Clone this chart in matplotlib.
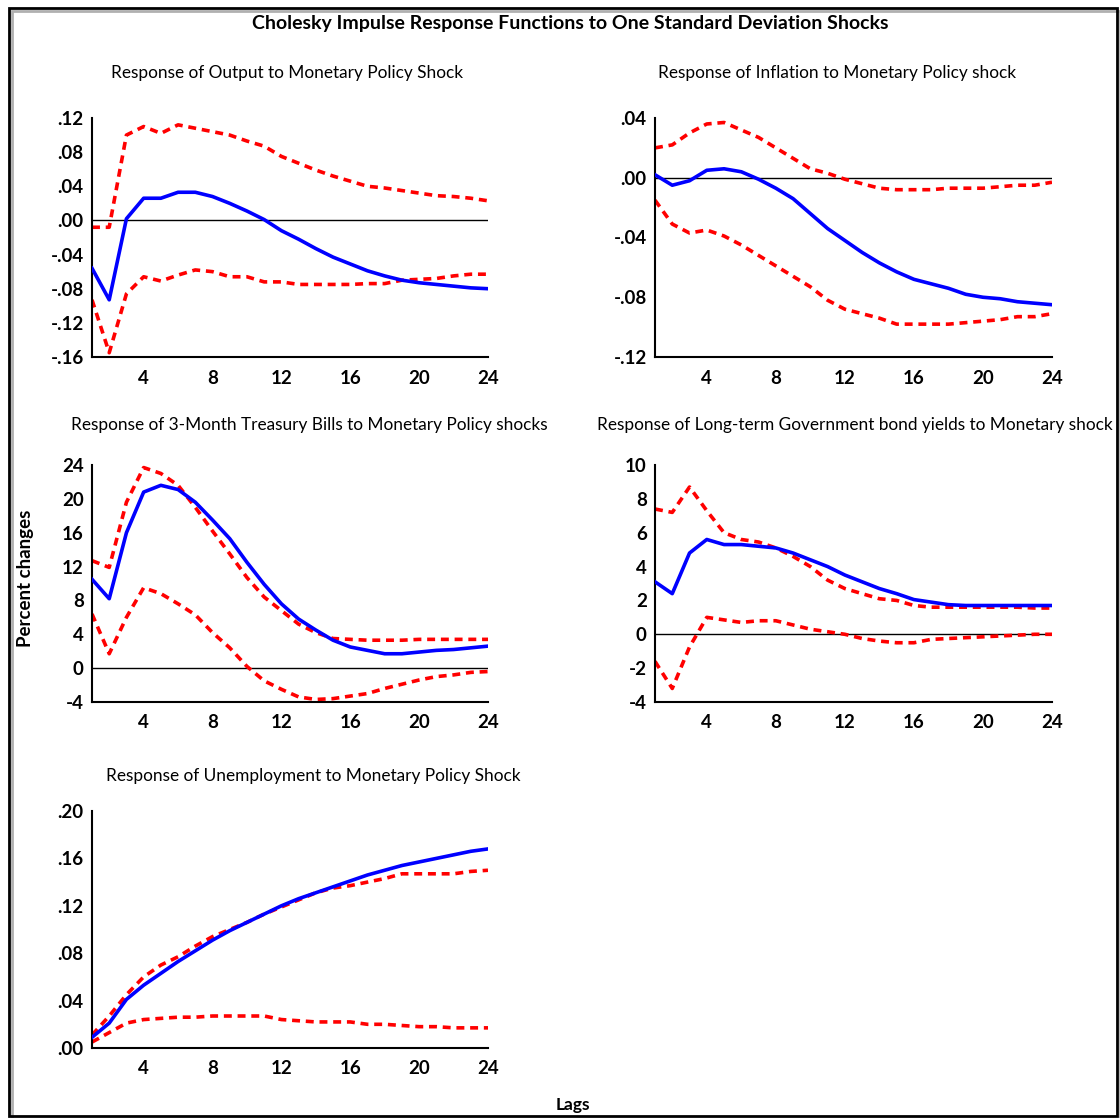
import matplotlib
matplotlib.use("Agg")
import matplotlib.pyplot as plt
from matplotlib.patches import Rectangle
import numpy as np

plt.rcParams["font.family"] = ["Lato", "DejaVu Sans"]

lags = np.arange(1, 25)

# Output
output_irf = [-0.056, -0.093, 0.002, 0.026, 0.026, 0.033, 0.033, 0.028, 0.020, 0.011, 0.001, -0.012,
              -0.022, -0.033, -0.043, -0.051, -0.059, -0.065, -0.070, -0.073, -0.075, -0.077, -0.079, -0.080]
output_up = [-0.008, -0.008, 0.100, 0.110, 0.102, 0.112, 0.108, 0.104, 0.100, 0.093, 0.087, 0.075,
             0.067, 0.059, 0.052, 0.046, 0.040, 0.038, 0.035, 0.032, 0.029, 0.028, 0.026, 0.023]
output_lo = [-0.093, -0.155, -0.086, -0.066, -0.071, -0.064, -0.058, -0.060, -0.066, -0.066, -0.072, -0.072,
             -0.075, -0.075, -0.075, -0.075, -0.074, -0.074, -0.070, -0.069, -0.068, -0.065, -0.063, -0.063]

# Inflation
infl_irf = [0.002, -0.005, -0.002, 0.005, 0.006, 0.004, -0.001, -0.007, -0.014, -0.024, -0.034, -0.042,
            -0.050, -0.057, -0.063, -0.068, -0.071, -0.074, -0.078, -0.080, -0.081, -0.083, -0.084, -0.085]
infl_up = [0.020, 0.022, 0.030, 0.036, 0.037, 0.032, 0.027, 0.020, 0.013, 0.006, 0.003, -0.001,
           -0.004, -0.007, -0.008, -0.008, -0.008, -0.007, -0.007, -0.007, -0.006, -0.005, -0.005, -0.003]
infl_lo = [-0.015, -0.031, -0.037, -0.035, -0.039, -0.045, -0.052, -0.059, -0.066, -0.073, -0.082, -0.088,
           -0.091, -0.094, -0.098, -0.098, -0.098, -0.098, -0.097, -0.096, -0.095, -0.093, -0.093, -0.091]

# 3-month treasury bills
tbill_irf = [10.5, 8.2, 16.0, 20.8, 21.6, 21.1, 19.6, 17.5, 15.3, 12.5, 9.9, 7.6,
             5.8, 4.5, 3.3, 2.5, 2.1, 1.7, 1.7, 1.9, 2.1, 2.2, 2.4, 2.6]
tbill_up = [12.7, 11.9, 19.6, 23.7, 23.0, 21.6, 19.0, 16.2, 13.5, 10.7, 8.4, 6.8,
            5.2, 4.2, 3.5, 3.4, 3.3, 3.3, 3.3, 3.4, 3.4, 3.4, 3.4, 3.4]
tbill_lo = [6.4, 1.7, 6.0, 9.5, 8.8, 7.6, 6.3, 4.2, 2.4, 0.2, -1.5, -2.5,
            -3.4, -3.7, -3.6, -3.3, -3.0, -2.4, -1.9, -1.4, -1.0, -0.8, -0.5, -0.4]

# Long-term government bond yields
bond_irf = [3.1, 2.4, 4.8, 5.6, 5.3, 5.3, 5.2, 5.1, 4.8, 4.4, 4.0, 3.5,
            3.1, 2.7, 2.4, 2.05, 1.9, 1.75, 1.7, 1.7, 1.7, 1.7, 1.7, 1.7]
bond_up = [7.4, 7.2, 8.7, 7.3, 6.0, 5.6, 5.45, 5.1, 4.6, 4.0, 3.2, 2.7,
           2.4, 2.1, 2.0, 1.7, 1.6, 1.6, 1.6, 1.6, 1.6, 1.6, 1.55, 1.55]
bond_lo = [-1.6, -3.2, -0.75, 1.0, 0.85, 0.7, 0.8, 0.8, 0.55, 0.3, 0.15, 0.0,
           -0.25, -0.4, -0.5, -0.5, -0.3, -0.25, -0.2, -0.15, -0.1, -0.05, 0.0, 0.0]

# Unemployment
unemp_irf = [0.009, 0.021, 0.041, 0.053, 0.063, 0.073, 0.082, 0.091, 0.099, 0.106, 0.113, 0.120,
             0.126, 0.131, 0.136, 0.141, 0.146, 0.150, 0.154, 0.157, 0.160, 0.163, 0.166, 0.168]
unemp_up = [0.011, 0.027, 0.045, 0.060, 0.070, 0.077, 0.086, 0.094, 0.100, 0.106, 0.113, 0.119,
            0.125, 0.131, 0.135, 0.137, 0.140, 0.143, 0.147, 0.147, 0.147, 0.147, 0.149, 0.150]
unemp_lo = [0.005, 0.013, 0.021, 0.024, 0.025, 0.026, 0.026, 0.027, 0.027, 0.027, 0.027, 0.024,
            0.023, 0.022, 0.022, 0.022, 0.020, 0.020, 0.019, 0.018, 0.018, 0.017, 0.017, 0.017]

titles = ["Response of Output to Monetary Policy Shock",
          "Response of Inflation to Monetary Policy shock",
          "Response of 3-Month Treasury Bills to Monetary Policy shocks",
          "Response of Long-term Government bond yields to Monetary shock",
          "Response of Unemployment to Monetary Policy Shock"]
yticks = [[0.12, 0.08, 0.04, 0.0, -0.04, -0.08, -0.12, -0.16],
          [0.04, 0.0, -0.04, -0.08, -0.12],
          [24, 20, 16, 12, 8, 4, 0, -4],
          [10, 8, 6, 4, 2, 0, -2, -4],
          [0.20, 0.16, 0.12, 0.08, 0.04, 0.0]]
decimal = [True, True, False, False, True]
series = [(output_irf, output_up, output_lo), (infl_irf, infl_up, infl_lo),
          (tbill_irf, tbill_up, tbill_lo), (bond_irf, bond_up, bond_lo),
          (unemp_irf, unemp_up, unemp_lo)]

W, H = 1120, 1118
fig = plt.figure(figsize=(W / 100, H / 100), dpi=100)

# pixel boxes: left, top, right, bottom
boxes = [(92, 118, 488, 357), (655, 118, 1052, 357),
         (92, 465, 488, 702), (655, 465, 1052, 702),
         (92, 811, 488, 1048)]
title_pos = [(287, 73), (837, 73), (309, 425), (597, 425), (313, 776)]


def fmt(v, dec):
    if not dec:
        return f"{int(v)}"
    s = f"{v:.2f}"
    return s.replace("0.", ".")


for i in range(5):
    l, t, r, b = boxes[i]
    ax = fig.add_axes([l / W, 1 - b / H, (r - l) / W, (b - t) / H])
    irf, up, lo = series[i]
    ax.axhline(0, color="black", lw=1.0, zorder=1)
    ax.plot(lags, up, color="red", lw=2.6, ls=(0, (2.2, 1.6)), zorder=2)
    ax.plot(lags, lo, color="red", lw=2.6, ls=(0, (2.2, 1.6)), zorder=2)
    ax.plot(lags, irf, color="#0000ff", lw=2.6, zorder=3)
    ax.set_xlim(1, 24)
    ax.set_ylim(min(yticks[i]), max(yticks[i]))
    ax.set_xticks([4, 8, 12, 16, 20, 24])
    ax.set_yticks(yticks[i])
    ax.set_yticklabels([fmt(v, decimal[i]) for v in yticks[i]])
    ax.spines["top"].set_visible(False)
    ax.spines["right"].set_visible(False)
    ax.spines["left"].set_linewidth(1.5)
    ax.spines["bottom"].set_linewidth(1.5)
    ax.tick_params(length=0, labelsize=13.5, pad=6)
    ax.tick_params(axis="x", pad=9)
    for lab in ax.get_xticklabels() + ax.get_yticklabels():
        lab.set_fontweight("bold")
    tx, ty = title_pos[i]
    ha = "left" if i == 3 else "center"
    fig.text(tx / W, 1 - ty / H, titles[i], ha=ha, va="center", fontsize=12.4)

fig.text(570 / W, 1 - 24 / H,
         "Cholesky Impulse Response Functions to One Standard Deviation Shocks",
         ha="center", va="center", fontsize=14, fontweight="bold")
fig.text(25 / W, 1 - 578 / H, "Percent changes", rotation=90, ha="center", va="center",
         fontsize=13.5, fontweight="bold")
fig.text(573 / W, 1 - 1105 / H, "Lags", ha="center", va="center", fontsize=12.5, fontweight="bold")

# outer frame with a light shadow
fig.patches.append(Rectangle((12 / W, 1 - 1119 / H), 1108 / W, 1108 / H, transform=fig.transFigure,
                             fill=False, edgecolor="#b0b0b0", lw=2))
fig.patches.append(Rectangle((9 / W, 1 - 1116 / H), 1108 / W, 1108 / H, transform=fig.transFigure,
                             facecolor="none", edgecolor="black", lw=2))

fig.savefig("out.png", dpi=100)
